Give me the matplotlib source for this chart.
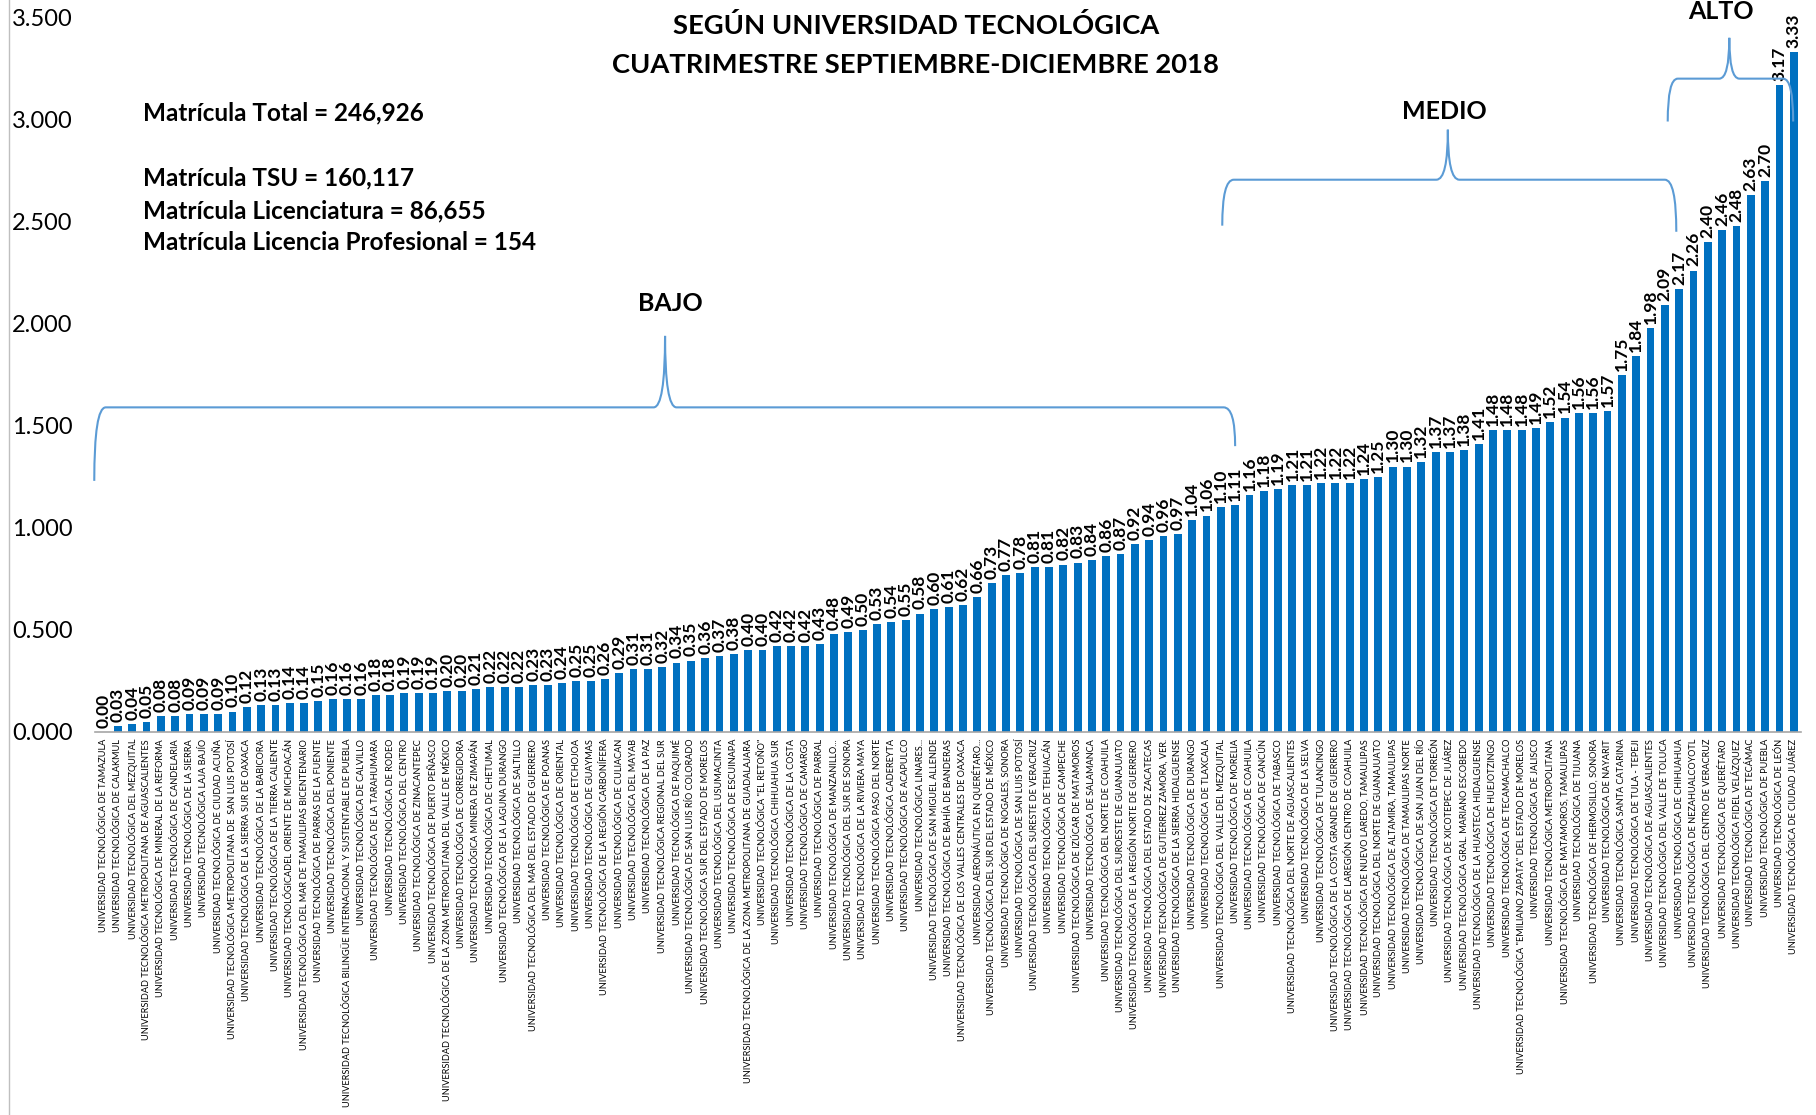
import matplotlib
matplotlib.use("Agg")
import matplotlib.pyplot as plt
from matplotlib.path import Path
from matplotlib.patches import PathPatch
from matplotlib.lines import Line2D

plt.rcParams['font.family'] = ['Lato', 'DejaVu Sans']

universidades = [
    "UNIVERSIDAD TECNOLÓGICA DE TAMAZULA",
    "UNIVERSIDAD TECNOLÓGICA DE CALAKMUL",
    "UNIVERSIDAD TECNOLÓGICA DEL MEZQUITAL",
    "UNIVERSIDAD TECNOLÓGICA METROPOLITANA DE AGUASCALIENTES",
    "UNIVERSIDAD TECNOLÓGICA DE MINERAL DE LA REFORMA",
    "UNIVERSIDAD TECNOLÓGICA DE CANDELARIA",
    "UNIVERSIDAD TECNOLÓGICA DE LA SIERRA",
    "UNIVERSIDAD TECNOLÓGICA LAJA BAJÍO",
    "UNIVERSIDAD TECNOLÓGICA DE CIUDAD ACUÑA",
    "UNIVERSIDAD TECNOLÓGICA METROPOLITANA DE  SAN LUIS POTOSÍ",
    "UNIVERSIDAD TECNOLÓGICA DE LA SIERRA SUR DE OAXACA",
    "UNIVERSIDAD TECNOLÓGICA DE LA BABICORA",
    "UNIVERSIDAD TECNOLÓGICA DE LA TIERRA CALIENTE",
    "UNIVERSIDAD TECNOLÓGICADEL ORIENTE DE MICHOACÁN",
    "UNIVERSIDAD TECNOLÓGICA DEL MAR DE TAMAULIPAS BICENTENARIO",
    "UNIVERSIDAD TECNOLÓGICA DE PARRAS DE LA FUENTE",
    "UNIVERSIDAD TECNOLÓGICA DEL PONIENTE",
    "UNIVERSIDAD TECNOLÓGICA BILINGÜE INTERNACIONAL Y SUSTENTABLE DE PUEBLA",
    "UNIVERSIDAD TECNOLÓGICA DE CALVILLO",
    "UNIVERSIDAD TECNOLÓGICA DE LA TARAHUMARA",
    "UNIVERSIDAD TECNOLÓGICA DE RODEO",
    "UNIVERSIDAD TECNOLÓGICA DEL CENTRO",
    "UNIVERSIDAD TECNOLÓGICA DE ZINACANTEPEC",
    "UNIVERSIDAD TECNOLÓGICA DE PUERTO PEÑASCO",
    "UNIVERSIDAD TECNOLÓGICA DE LA ZONA METROPOLITANA DEL VALLE DE MÉXICO",
    "UNIVERSIDAD TECNOLÓGICA DE CORREGIDORA",
    "UNIVERSIDAD TECNOLÓGICA MINERA DE ZIMAPÁN",
    "UNIVERSIDAD TECNOLÓGICA DE CHETUMAL",
    "UNIVERSIDAD TECNOLÓGICA DE LA LAGUNA DURANGO",
    "UNIVERSIDAD TECNOLÓGICA DE SALTILLO",
    "UNIVERSIDAD TECNOLÓGICA DEL MAR DEL ESTADO DE GUERRERO",
    "UNIVERSIDAD TECNOLÓGICA DE POANAS",
    "UNIVERSIDAD TECNOLÓGICA DE ORIENTAL",
    "UNIVERSIDAD TECNOLÓGICA DE ETCHOJOA",
    "UNIVERSIDAD TECNOLÓGICA DE GUAYMAS",
    "UNIVERSIDAD TECNOLÓGICA DE LA REGIÓN CARBONÍFERA",
    "UNIVERSIDAD TECNOLÓGICA DE CULIACAN",
    "UNIVERSIDAD TECNOLÓGICA DEL MAYAB",
    "UNIVERSIDAD TECNOLÓGICA DE LA PAZ",
    "UNIVERSIDAD TECNOLÓGICA REGIONAL DEL SUR",
    "UNIVERSIDAD TECNOLÓGICA DE PAQUIMÉ",
    "UNIVERSIDAD TECNOLÓGICA DE SAN LUIS RÍO COLORADO",
    "UNIVERSIDAD TECNOLÓGICA SUR DEL ESTADO DE MORELOS",
    "UNIVERSIDAD TECNOLÓGICA DEL USUMACINTA",
    "UNIVERSIDAD TECNOLÓGICA DE ESCUINAPA",
    "UNIVERSIDAD TECNOLÓGICA DE LA ZONA METROPOLITANA DE GUADALAJARA",
    "UNIVERSIDAD TECNOLÓGICA \"EL RETOÑO\"",
    "UNIVERSIDAD TECNOLÓGICA CHIHUAHUA SUR",
    "UNIVERSIDAD TECNOLÓGICA DE LA COSTA",
    "UNIVERSIDAD TECNOLÓGICA DE CAMARGO",
    "UNIVERSIDAD TECNOLÓGICA DE PARRAL",
    "UNIVERSIDAD TECNOLÓGICA DE MANZANILLO...",
    "UNIVERSIDAD TECNOLÓGICA DEL SUR DE SONORA",
    "UNIVERSIDAD TECNOLÓGICA DE LA RIVIERA MAYA",
    "UNIVERSIDAD TECNOLÓGICA PASO DEL NORTE",
    "UNIVERSIDAD TECNOLÓGICA CADEREYTA",
    "UNIVERSIDAD TECNOLÓGICA DE ACAPULCO",
    "UNIVERSIDAD TECNOLÓGICA LINARES...",
    "UNIVERSIDAD TECNOLÓGICA DE SAN MIGUEL ALLENDE",
    "UNIVERSIDAD TECNOLÓGICA DE BAHÍA DE BANDERAS",
    "UNIVERSIDAD TECNOLÓGICA DE LOS VALLES CENTRALES DE OAXACA",
    "UNIVERSIDAD AERONÁUTICA EN QUERÉTARO...",
    "UNIVERSIDAD TECNOLÓGICA DEL SUR DEL ESTADO DE MÉXICO",
    "UNIVERSIDAD TECNOLÓGICA DE NOGALES, SONORA",
    "UNIVERSIDAD TECNOLÓGICA DE SAN LUIS POTOSÍ",
    "UNIVERSIDAD TECNOLÓGICA DEL SURESTE DE VERACRUZ",
    "UNIVERSIDAD TECNOLÓGICA DE TEHUACÁN",
    "UNIVERSIDAD TECNOLÓGICA DE CAMPECHE",
    "UNIVERSIDAD TECNOLÓGICA DE IZÚCAR DE MATAMOROS",
    "UNIVERSIDAD TECNOLÓGICA DE SALAMANCA",
    "UNIVERSIDAD TECNOLÓGICA DEL NORTE DE COAHUILA",
    "UNIVERSIDAD TECNOLÓGICA DEL SUROESTE DE GUANAJUATO",
    "UNIVERSIDAD TECNOLÓGICA DE LA REGIÓN NORTE DE GUERRERO",
    "UNIVERSIDAD TECNOLÓGICA DEL ESTADO DE ZACATECAS",
    "UNIVERSIDAD TECNOLÓGICA DE GUTIERREZ ZAMORA, VER.",
    "UNIVERSIDAD TECNOLÓGICA DE LA SIERRA HIDALGUENSE",
    "UNIVERSIDAD TECNOLÓGICA DE DURANGO",
    "UNIVERSIDAD TECNOLÓGICA DE TLAXCALA",
    "UNIVERSIDAD TECNOLÓGICA DEL VALLE DEL MEZQUITAL",
    "UNIVERSIDAD TECNOLÓGICA DE MORELIA",
    "UNIVERSIDAD TECNOLÓGICA DE COAHUILA",
    "UNIVERSIDAD TECNOLÓGICA DE CANCÚN",
    "UNIVERSIDAD TECNOLÓGICA DE TABASCO",
    "UNIVERSIDAD TECNOLÓGICA DEL NORTE DE AGUASCALIENTES",
    "UNIVERSIDAD TECNOLÓGICA DE LA SELVA",
    "UNIVERSIDAD TECNOLÓGICA DE TULANCINGO",
    "UNIVERSIDAD TECNOLÓGICA DE LA COSTA GRANDE DE GUERRERO",
    "UNIVERSIDAD TECNOLÓGICA DE LAREGIÓN CENTRO DE COAHUILA",
    "UNIVERSIDAD TECNOLÓGICA DE NUEVO LAREDO, TAMAULIPAS",
    "UNIVERSIDAD TECNOLÓGICA DEL NORTE DE GUANAJUATO",
    "UNIVERSIDAD TECNOLÓGICA DE ALTAMIRA, TAMAULIPAS",
    "UNIVERSIDAD TECNOLÓGICA DE TAMAULIPAS NORTE",
    "UNIVERSIDAD TECNOLÓGICA DE SAN JUAN DEL RÍO",
    "UNIVERSIDAD TECNOLÓGICA DE TORREÓN",
    "UNIVERSIDAD TECNOLÓGICA DE XICOTEPEC DE JUÁREZ",
    "UNIVERSIDAD TECNOLÓGICA GRAL. MARIANO ESCOBEDO",
    "UNIVERSIDAD TECNOLÓGICA DE LA HUASTECA HIDALGUENSE",
    "UNIVERSIDAD TECNOLÓGICA DE HUEJOTZINGO",
    "UNIVERSIDAD TECNOLÓGICA DE TECAMACHALCO",
    "UNIVERSIDAD TECNOLÓGICA \"EMILIANO ZAPATA\" DEL ESTADO DE MORELOS",
    "UNIVERSIDAD TECNOLÓGICA DE JALISCO",
    "UNIVERSIDAD TECNOLÓGICA METROPOLITANA",
    "UNIVERSIDAD TECNOLÓGICA DE MATAMOROS, TAMAULIPAS",
    "UNIVERSIDAD TECNOLÓGICA DE TIJUANA",
    "UNIVERSIDAD TECNOLÓGICA DE HERMOSILLO, SONORA",
    "UNIVERSIDAD TECNOLÓGICA DE NAYARIT",
    "UNIVERSIDAD TECNOLÓGICA SANTA CATARINA",
    "UNIVERSIDAD TECNOLÓGICA DE TULA - TEPEJI",
    "UNIVERSIDAD TECNOLÓGICA DE AGUASCALIENTES",
    "UNIVERSIDAD TECNOLÓGICA DEL VALLE DE TOLUCA",
    "UNIVERSIDAD TECNOLÓGICA DE CHIHUAHUA",
    "UNIVERSIDAD TECNOLÓGICA DE NEZAHUALCOYOTL",
    "UNIVERSIDAD TECNOLÓGICA DEL CENTRO DE VERACRUZ",
    "UNIVERSIDAD TECNOLÓGICA DE QUERÉTARO",
    "UNIVERSIDAD TECNOLÓGICA FIDEL VELÁZQUEZ",
    "UNIVERSIDAD TECNOLÓGICA DE TECÁMAC",
    "UNIVERSIDAD TECNOLÓGICA DE PUEBLA",
    "UNIVERSIDAD TECNOLÓGICA DE LEÓN",
    "UNIVERSIDAD TECNOLÓGICA DE CIUDAD JUÁREZ",
]

valores = [
    0.00, 0.03, 0.04, 0.05, 0.08, 0.08, 0.09, 0.09, 0.09, 0.10,
    0.12, 0.13, 0.13, 0.14, 0.14, 0.15, 0.16, 0.16, 0.16, 0.18,
    0.18, 0.19, 0.19, 0.19, 0.20, 0.20, 0.21, 0.22, 0.22, 0.22,
    0.23, 0.23, 0.24, 0.25, 0.25, 0.26, 0.29, 0.31, 0.31, 0.32,
    0.34, 0.35, 0.36, 0.37, 0.38, 0.40, 0.40, 0.42, 0.42, 0.42,
    0.43, 0.48, 0.49, 0.50, 0.53, 0.54, 0.55, 0.58, 0.60, 0.61,
    0.62, 0.66, 0.73, 0.77, 0.78, 0.81, 0.81, 0.82, 0.83, 0.84,
    0.86, 0.87, 0.92, 0.94, 0.96, 0.97, 1.04, 1.06, 1.10, 1.11,
    1.16, 1.18, 1.19, 1.21, 1.21, 1.22, 1.22, 1.22, 1.24, 1.25,
    1.30, 1.30, 1.32, 1.37, 1.37, 1.38, 1.41, 1.48, 1.48, 1.48,
    1.49, 1.52, 1.54, 1.56, 1.56, 1.57, 1.75, 1.84, 1.98, 2.09,
    2.17, 2.26, 2.40, 2.46, 2.48, 2.63, 2.70, 3.17, 3.33,
]

y_ticks = [0.0, 0.5, 1.0, 1.5, 2.0, 2.5, 3.0, 3.5]
titulo = "SEGÚN UNIVERSIDAD TECNOLÓGICA\nCUATRIMESTRE SEPTIEMBRE-DICIEMBRE 2018"
matricula_lineas = ["Matrícula Total = 246,926", "",
                    "Matrícula TSU = 160,117",
                    "Matrícula Licenciatura = 86,655",
                    "Matrícula Licencia Profesional = 154"]

# grupos: (nombre, x_inicio, x_fin, y_base_izq, y_base_der, y_linea, y_pico, x_pico, x_texto, y_texto)
grupos = [
    ("BAJO", -0.65, 79.0, 1.23, 1.40, 1.59, 1.94, 39.2, 39.6, 2.10),
    ("MEDIO", 78.1, 109.8, 2.48, 2.45, 2.705, 2.95, 93.85, 93.6, 3.04),
    ("ALTO", 109.2, 117.96, 2.99, 2.99, 3.20, 3.40, 113.5, 112.9, 3.53),
]

BAR_COLOR = "#0070C0"
BRACE_COLOR = "#5B9BD5"

fig = plt.figure(figsize=(18.16, 11.15), dpi=100)
ax = fig.add_axes([0.0523, 0.3435, 0.9394, 0.6409])

x = list(range(len(valores)))
bars = ax.bar(x, valores, width=0.55, color=BAR_COLOR, zorder=2)

for xi, v in zip(x, valores):
    ax.text(xi, v + 0.02, f"{v:.2f}", rotation=90, ha="center", va="bottom",
            fontsize=12.5, fontweight="bold", color="black", clip_on=False)

ax.set_xlim(-0.6, len(valores) - 0.5)
ax.set_ylim(0, 3.5)
ax.set_yticks(y_ticks)
ax.set_yticklabels([f"{t:.3f}" for t in y_ticks], fontsize=17)
ax.set_xticks(x)
ax.set_xticklabels(universidades, rotation=90, fontsize=6.6, ha="center", va="top")
ax.tick_params(axis="y", length=0, pad=16)
ax.tick_params(axis="x", length=0, pad=5)
for s in ["top", "right", "left"]:
    ax.spines[s].set_visible(False)
ax.spines["bottom"].set_color("#A6A6A6")
ax.spines["bottom"].set_linewidth(1.2)


def brace(ax, x0, x1, yb0, yb1, yh, yp, xm, dx):
    verts = [
        (x0, yb0), (x0, yh), (x0 + dx, yh),
        (xm - dx, yh),
        (xm, yh), (xm, yp),
        (xm, yh), (xm + dx, yh),
        (x1 - dx, yh),
        (x1, yh), (x1, yb1),
    ]
    codes = [Path.MOVETO, Path.CURVE3, Path.CURVE3,
             Path.LINETO,
             Path.CURVE3, Path.CURVE3,
             Path.CURVE3, Path.CURVE3,
             Path.LINETO,
             Path.CURVE3, Path.CURVE3]
    p = PathPatch(Path(verts, codes), fill=False, edgecolor=BRACE_COLOR,
                  linewidth=1.5, clip_on=False, zorder=3)
    ax.add_patch(p)


for nombre, x0, x1, yb0, yb1, yh, yp, xm, xt, yt in grupos:
    dx = min(0.8, (x1 - x0) * 0.08)
    brace(ax, x0, x1, yb0, yb1, yh, yp, xm, dx)
    ax.text(xt, yt, nombre, ha="center", va="center", fontsize=18,
            fontweight="bold", clip_on=False)

fig.text(0.5044, 0.9595, titulo, ha="center", va="center", fontsize=19.7,
         fontweight="bold", linespacing=1.75)

fig.text(0.079, 0.909, "\n".join(matricula_lineas), ha="left", va="top",
         fontsize=17.5, fontweight="bold", linespacing=1.5)

fig.add_artist(Line2D([0.005, 0.005], [0.0, 1.0], transform=fig.transFigure,
                      color="#BFBFBF", linewidth=1.0))

fig.savefig("out.png", dpi=100)
